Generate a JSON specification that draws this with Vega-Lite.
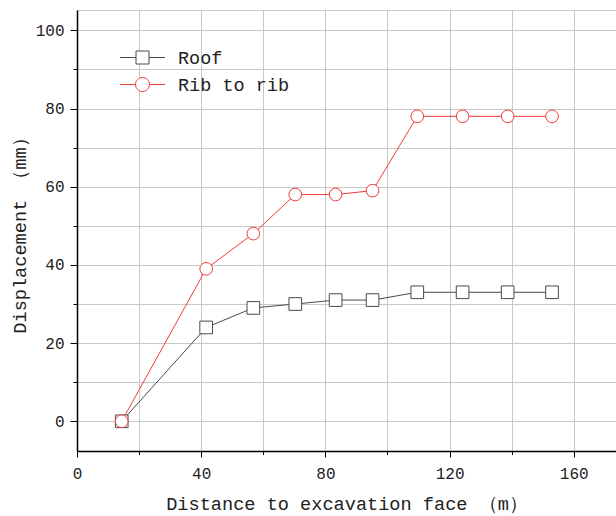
{
  "$schema": "https://vega.github.io/schema/vega-lite/v6.json",
  "width": 539,
  "height": 441,
  "autosize": {"type": "none"},
  "padding": {"left": 77, "top": 10, "right": 0, "bottom": 65},
  "background": "white",
  "config": {"view": {"stroke": "#c8c8c8"}, "font": "Liberation Mono"},
  "data": {
    "values": [
      {"distance": 14.4, "displacement": 0, "series": "Roof"},
      {"distance": 41.6, "displacement": 24, "series": "Roof"},
      {"distance": 56.8, "displacement": 29, "series": "Roof"},
      {"distance": 70.3, "displacement": 30, "series": "Roof"},
      {"distance": 83.3, "displacement": 31, "series": "Roof"},
      {"distance": 95.2, "displacement": 31, "series": "Roof"},
      {"distance": 109.6, "displacement": 33, "series": "Roof"},
      {"distance": 124.2, "displacement": 33, "series": "Roof"},
      {"distance": 138.7, "displacement": 33, "series": "Roof"},
      {"distance": 153.0, "displacement": 33, "series": "Roof"},
      {"distance": 14.4, "displacement": 0, "series": "Rib to rib"},
      {"distance": 41.6, "displacement": 39, "series": "Rib to rib"},
      {"distance": 56.8, "displacement": 48, "series": "Rib to rib"},
      {"distance": 70.3, "displacement": 58, "series": "Rib to rib"},
      {"distance": 83.3, "displacement": 58, "series": "Rib to rib"},
      {"distance": 95.2, "displacement": 59, "series": "Rib to rib"},
      {"distance": 109.6, "displacement": 78, "series": "Rib to rib"},
      {"distance": 124.2, "displacement": 78, "series": "Rib to rib"},
      {"distance": 138.7, "displacement": 78, "series": "Rib to rib"},
      {"distance": 153.0, "displacement": 78, "series": "Rib to rib"}
    ]
  },
  "encoding": {
    "x": {
      "field": "distance",
      "type": "quantitative",
      "scale": {"domain": [0, 173.6], "nice": false, "zero": false},
      "axis": {
        "values": [0, 20, 40, 60, 80, 100, 120, 140, 160],
        "labelExpr": "datum.value % 40 === 0 ? datum.label : ''",
        "grid": true,
        "gridColor": "#c8c8c8",
        "gridWidth": 1,
        "tickColor": "black",
        "tickSize": {"condition": {"test": "datum.value % 40 === 0", "value": 6}, "value": 3.5},
        "domainColor": "black",
        "domainWidth": 1.5,
        "labelFontSize": 16,
        "labelPadding": 8,
        "labelColor": "#222222",
        "labelFlush": false,
        "title": "Distance to excavation face （m）",
        "titleFontSize": 18.6,
        "titleFontWeight": "normal",
        "titleColor": "#222222",
        "titlePadding": 13
      }
    },
    "y": {
      "field": "displacement",
      "type": "quantitative",
      "scale": {"domain": [-7.6, 105.2], "nice": false, "zero": false},
      "axis": {
        "values": [0, 10, 20, 30, 40, 50, 60, 70, 80, 90, 100],
        "labelExpr": "datum.value % 20 === 0 ? datum.label : ''",
        "grid": true,
        "gridColor": "#c8c8c8",
        "gridWidth": 1,
        "tickColor": "black",
        "tickSize": {"condition": {"test": "datum.value % 20 === 0", "value": 7}, "value": 4},
        "domainColor": "black",
        "domainWidth": 1.5,
        "labelFontSize": 16,
        "labelPadding": 6,
        "labelColor": "#222222",
        "labelFlush": false,
        "title": "Displacement （mm）",
        "titleFontSize": 18.6,
        "titleFontWeight": "normal",
        "titleColor": "#222222",
        "titlePadding": 6
      }
    },
    "color": {
      "field": "series",
      "type": "nominal",
      "scale": {"domain": ["Roof", "Rib to rib"], "range": ["#4a4a4a", "#f03c3c"]},
      "legend": {
        "title": null,
        "orient": "none",
        "legendX": 55,
        "legendY": 37,
        "padding": 0,
        "symbolSize": 400,
        "rowPadding": 7,
        "labelOffset": 25,
        "labelFontSize": 18.5,
        "labelColor": "#222222",
        "symbolStrokeWidth": 1,
        "symbolFillColor": "white",
        "encoding": {
          "symbols": {
            "shape": {
              "condition": {"test": "datum.value === 'Roof'", "value": "M-2.25,0H-0.65M-0.65,-0.65H0.65V0.65H-0.65ZM0.65,0H2.25"},
              "value": "M-2.25,0H-0.7M-0.7,0A0.7,0.7 0 1,1 0.7,0A0.7,0.7 0 1,1 -0.7,0M0.7,0H2.25"
            },
            "size": {"value": 400},
            "fill": {"value": "white"},
            "fillOpacity": {"value": 1},
            "strokeWidth": {"value": 1},
            "opacity": {"value": 1}
          }
        }
      }
    }
  },
  "layer": [
    {
      "mark": {"type": "line", "strokeWidth": 1}
    },
    {
      "mark": {"type": "point", "filled": false, "fill": "white", "fillOpacity": 1, "opacity": 1, "strokeWidth": 1, "size": 160},
      "encoding": {
        "shape": {
          "field": "series",
          "type": "nominal",
          "scale": {"range": ["circle", "square"]},
          "legend": null
        }
      }
    }
  ]
}
